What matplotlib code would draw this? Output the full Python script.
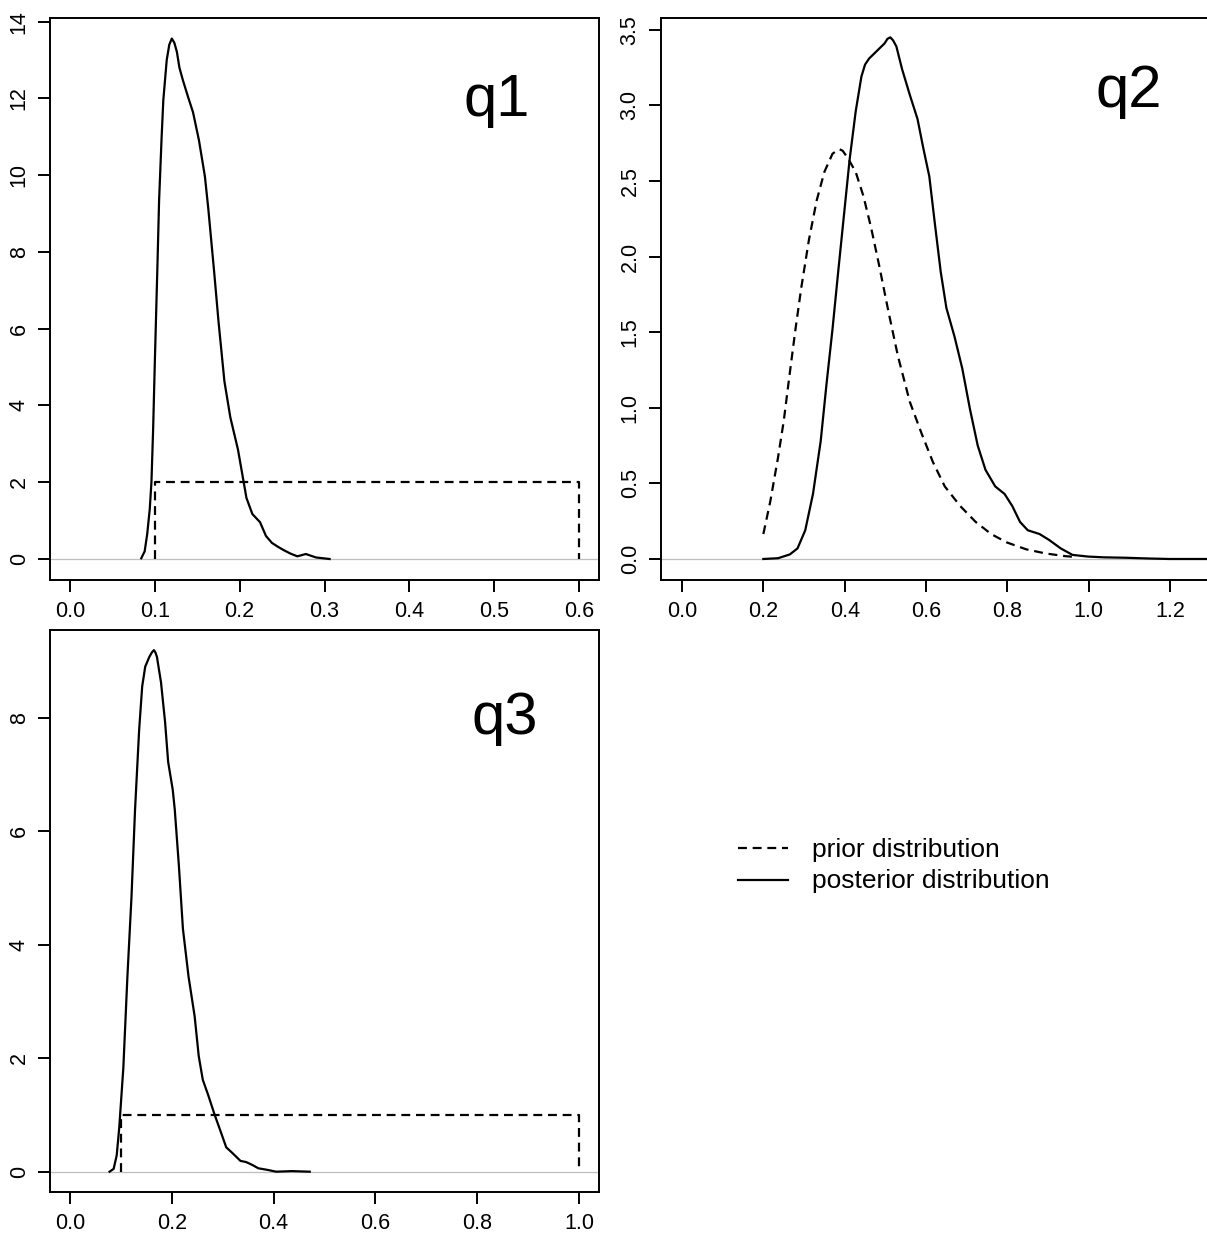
import matplotlib
matplotlib.use("Agg")
import matplotlib.pyplot as plt
from matplotlib.lines import Line2D

plt.rcParams["font.family"] = ["Liberation Sans", "DejaVu Sans"]

# ---- q1 -------------------------------------------------------------
q1_post_x = [0.084, 0.088, 0.091, 0.094, 0.096, 0.098, 0.100, 0.103, 0.105,
             0.108, 0.110, 0.114, 0.117, 0.120, 0.123, 0.126, 0.129,
             0.133, 0.139, 0.145, 0.152, 0.159, 0.163, 0.170, 0.175, 0.182,
             0.189, 0.198, 0.203, 0.208, 0.215, 0.224, 0.231, 0.238, 0.245,
             0.252, 0.260, 0.268, 0.278, 0.290, 0.306]
q1_post_y = [0.02, 0.2, 0.65, 1.3, 2.01, 3.4, 5.15, 7.6, 9.34,
             11.0, 11.96, 13.0, 13.4, 13.56, 13.45, 13.21, 12.8,
             12.48, 12.05, 11.64, 10.91, 9.97, 9.13, 7.46, 6.20, 4.63,
             3.69, 2.85, 2.22, 1.59, 1.17, 0.96, 0.60, 0.42, 0.32,
             0.23, 0.14, 0.07, 0.13, 0.04, 0.0]
q1_prior_x = [0.1, 0.1, 0.6, 0.6]
q1_prior_y = [0.0, 2.0, 2.0, 0.0]

# ---- q2 -------------------------------------------------------------
q2_prior_x = [0.200, 0.217, 0.236, 0.250, 0.265, 0.279, 0.293, 0.312, 0.331,
              0.350, 0.370, 0.380, 0.387, 0.395, 0.408, 0.427, 0.446, 0.465,
              0.484, 0.508, 0.531, 0.560, 0.589, 0.617, 0.646, 0.684, 0.722,
              0.760, 0.798, 0.846, 0.893, 0.941, 0.960]
q2_prior_y = [0.165, 0.38, 0.67, 0.91, 1.23, 1.52, 1.79, 2.11, 2.37,
              2.56, 2.68, 2.70, 2.71, 2.70, 2.65, 2.56, 2.40, 2.19,
              1.95, 1.63, 1.34, 1.04, 0.83, 0.64, 0.48, 0.35, 0.245,
              0.165, 0.11, 0.064, 0.037, 0.019, 0.015]
q2_post_x = [0.200, 0.236, 0.265, 0.284, 0.303, 0.322, 0.341, 0.355, 0.370,
             0.384, 0.398, 0.412, 0.427, 0.441, 0.450, 0.460, 0.479, 0.498,
             0.505, 0.512, 0.519, 0.527, 0.541, 0.560, 0.579, 0.593, 0.608,
             0.622, 0.636, 0.650, 0.670, 0.689, 0.708, 0.727, 0.746, 0.770,
             0.793, 0.812, 0.831, 0.850, 0.879, 0.903, 0.931, 0.960, 0.998,
             1.036, 1.093, 1.150, 1.198, 1.300]
q2_post_y = [0.0, 0.005, 0.03, 0.07, 0.19, 0.43, 0.78, 1.15, 1.52,
             1.90, 2.27, 2.64, 2.96, 3.19, 3.27, 3.31, 3.36, 3.41,
             3.44, 3.45, 3.43, 3.39, 3.24, 3.07, 2.91, 2.72, 2.53,
             2.21, 1.90, 1.66, 1.47, 1.26, 0.99, 0.75, 0.59, 0.48,
             0.43, 0.35, 0.245, 0.19, 0.165, 0.125, 0.07, 0.027, 0.016,
             0.011, 0.008, 0.003, 0.0, 0.0]

# ---- q3 -------------------------------------------------------------
q3_post_x = [0.078, 0.086, 0.092, 0.097, 0.105, 0.113, 0.121, 0.128, 0.136,
             0.142, 0.148, 0.156, 0.161, 0.165, 0.168, 0.171, 0.179, 0.187,
             0.193, 0.202, 0.206, 0.214, 0.222, 0.233, 0.245, 0.253, 0.261,
             0.272, 0.284, 0.296, 0.307, 0.319, 0.335, 0.346, 0.358, 0.370,
             0.389, 0.405, 0.436, 0.471]
q3_post_y = [0.0, 0.05, 0.29, 0.78, 1.83, 3.44, 4.84, 6.38, 7.78,
             8.55, 8.90, 9.07, 9.15, 9.19, 9.15, 9.07, 8.62, 7.92,
             7.22, 6.73, 6.38, 5.40, 4.28, 3.44, 2.74, 2.04, 1.62,
             1.34, 1.01, 0.71, 0.43, 0.33, 0.19, 0.17, 0.12, 0.06,
             0.03, 0.0, 0.01, 0.0]
q3_prior_x = [0.1, 0.1, 1.0, 1.0]
q3_prior_y = [0.0, 1.0, 1.0, 0.0]

panel_names = ["q1", "q2", "q3"]
legend_labels = ["prior distribution", "posterior distribution"]

W, H = 1207, 1241
fig = plt.figure(figsize=(W / 100, H / 100), dpi=100)

def rect(left, top, right, bottom):
    return [left / W, 1 - bottom / H, (right - left) / W, (bottom - top) / H]

DASH = (0, (4.0, 2.6))
LW = 1.6

def panel(r, px, py, prx, pry, xlim, ylim, xticks, yticks, xfmt, yfmt, name, tpos):
    ax = fig.add_axes(r)
    ax.axhline(0, color="#BEBEBE", lw=0.9, zorder=1)
    if prx is not None:
        ax.plot(prx, pry, color="black", lw=LW, linestyle=DASH, zorder=2)
    ax.plot(px, py, color="black", lw=LW, zorder=3, solid_joinstyle="round")
    ax.set_xlim(*xlim)
    ax.set_ylim(*ylim)
    ax.set_xticks(xticks)
    ax.set_yticks(yticks)
    ax.set_xticklabels([xfmt.format(v) for v in xticks])
    ax.set_yticklabels([yfmt.format(v) for v in yticks])
    for lab in ax.get_yticklabels():
        lab.set_rotation(90)
        lab.set_va("center")
    ax.tick_params(direction="out", length=8.6, width=1.4, labelsize=15.5,
                   color="black")
    ax.tick_params(axis="x", pad=6.5)
    ax.tick_params(axis="y", pad=6)
    for s in ax.spines.values():
        s.set_linewidth(1.4)
    ax.text(tpos[0], tpos[1], name, transform=ax.transAxes, fontsize=43,
            ha="center", va="baseline")
    return ax

panel(rect(50, 18, 599, 580), q1_post_x, q1_post_y, q1_prior_x, q1_prior_y,
      (-0.0236, 0.6236), (-0.547, 14.096),
      [0.0, 0.1, 0.2, 0.3, 0.4, 0.5, 0.6], [0, 2, 4, 6, 8, 10, 12, 14],
      "{:.1f}", "{:d}", panel_names[0], (0.814, 0.826))

panel(rect(661, 18, 1210, 580), q2_post_x, q2_post_y, q2_prior_x, q2_prior_y,
      (-0.0516, 1.298), (-0.139, 3.578),
      [0.0, 0.2, 0.4, 0.6, 0.8, 1.0, 1.2], [0.0, 0.5, 1.0, 1.5, 2.0, 2.5, 3.0, 3.5],
      "{:.1f}", "{:.1f}", panel_names[1], (0.852, 0.842))

panel(rect(50, 630, 599, 1192), q3_post_x, q3_post_y, q3_prior_x, q3_prior_y,
      (-0.039, 1.039), (-0.358, 9.545),
      [0.0, 0.2, 0.4, 0.6, 0.8, 1.0], [0, 2, 4, 6, 8],
      "{:.1f}", "{:d}", panel_names[2], (0.829, 0.815))

# legend in the empty lower-right cell
for (ls, lab, yl, yb) in [(DASH, legend_labels[0], 848, 856.5),
                          ("-", legend_labels[1], 880, 888)]:
    fig.add_artist(Line2D([738 / W, 788 / W], [1 - yl / H, 1 - yl / H],
                          color="black", lw=LW, linestyle=ls))
    fig.text(812 / W, 1 - yb / H, lab, fontsize=19, ha="left", va="baseline")

fig.savefig("out.png", dpi=100)
